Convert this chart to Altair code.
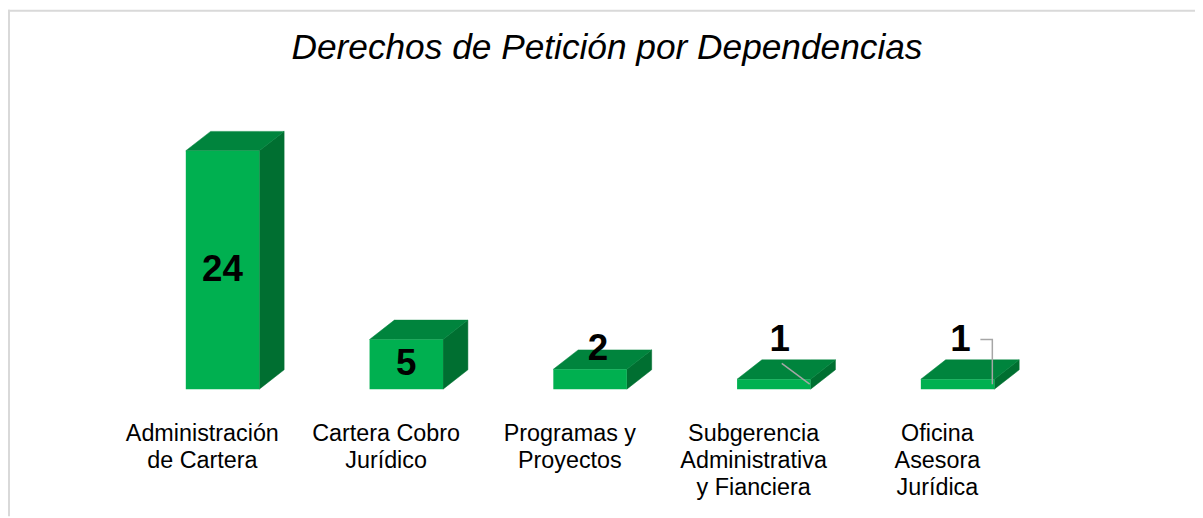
import altair as alt
import pandas as pd

# ---- data ----
categories = ["Administración\nde Cartera", "Cartera Cobro\nJurídico", "Programas y\nProyectos",
              "Subgerencia\nAdministrativa\ny Fianciera", "Oficina\nAsesora\nJurídica"]
values = [24, 5, 2, 1, 1]
title_text = "Derechos de Petición por Dependencias"

# ---- geometry (in data units) ----
HW = 0.2          # half bar width (category units)
DX = 25 / 185     # depth offset in x
DY = 1.95         # depth offset in y

front, top, side = [], [], []
for i, v in enumerate(values):
    front.append({"x": i - HW, "x2": i + HW, "y": 0, "y2": v})
    for x, lo, hi in [(i - HW, v, v), (i - HW + DX, v, v + DY), (i + HW, v, v + DY), (i + HW + DX, v + DY, v + DY)]:
        top.append({"bar": i, "x": x, "lo": lo, "hi": hi})
    for x, lo, hi in [(i + HW, 0, v), (i + HW + DX, DY, v + DY)]:
        side.append({"bar": i, "x": x, "lo": lo, "hi": hi})

# value labels: inside tall bars, above flat ones
lab_dx = [0, 0, 0.043, 0.032, 0.016]
lab_y = [values[0] / 2, values[1] / 2, 4.0, 4.9, 4.9]
labels = pd.DataFrame({"x": [i + d for i, d in enumerate(lab_dx)], "y": lab_y,
                       "t": [str(v) for v in values]})

# leader lines
leaders = pd.DataFrame([
    {"id": 0, "o": 0, "x": 3 + 0.043, "y": 2.6},
    {"id": 0, "o": 1, "x": 3 + 0.195, "y": 0.5},
    {"id": 1, "o": 0, "x": 4 + 0.124, "y": 5.0},
    {"id": 1, "o": 1, "x": 4 + 0.189, "y": 5.0},
    {"id": 1, "o": 2, "x": 4 + 0.189, "y": 0.5},
])

cats = pd.DataFrame({"x": [i - 0.11 for i in range(len(categories))], "y": [-3.3] * len(categories),
                     "t": categories})

W, H = 1195, 510
xs = alt.Scale(domain=[-216 / 185, -216 / 185 + W / 185], nice=False, zero=False)
ys = alt.Scale(domain=[-12.8, 38.2], nice=False, zero=False)
X = lambda f: alt.X(f, type="quantitative", scale=xs, axis=None)
Y = lambda f: alt.Y(f, type="quantitative", scale=ys, axis=None)

side_l = alt.Chart(pd.DataFrame(side)).mark_area(color="#006f31", stroke="#006f31", strokeWidth=0.5).encode(
    x=X("x"), y=Y("hi"), y2="lo", detail="bar:N")
top_l = alt.Chart(pd.DataFrame(top)).mark_area(color="#00843d", stroke="#00843d", strokeWidth=0.5).encode(
    x=X("x"), y=Y("hi"), y2="lo", detail="bar:N")
front_l = alt.Chart(pd.DataFrame(front)).mark_rect(color="#00b050").encode(
    x=X("x"), x2="x2", y=Y("y"), y2="y2")
lead_l = alt.Chart(leaders).mark_line(color="#a6a6a6", strokeWidth=1.5).encode(
    x=X("x"), y=Y("y"), detail="id:N", order="o:Q")
val_l = alt.Chart(labels).mark_text(font="Liberation Sans", fontWeight="bold", fontSize=37,
                                    color="black", baseline="middle", align="center").encode(
    x=X("x"), y=Y("y"), text="t:N")
cat_l = alt.Chart(cats).mark_text(font="Liberation Sans", fontSize=23.5, color="black", lineBreak="\n",
                                  lineHeight=27.5, baseline="top", align="center").encode(
    x=X("x"), y=Y("y"), text="t:N")
title_l = alt.Chart(pd.DataFrame({"t": [title_text]})).mark_text(
    font="Liberation Sans", fontSize=35.5, fontStyle="italic", color="black", baseline="middle",
    align="center").encode(x=alt.value(603), y=alt.value(39), text="t:N")
frame_l = alt.Chart(pd.DataFrame({"a": [0]})).mark_rule(color="#d9d9d9", strokeWidth=2).encode(
    x=alt.value(1), y=alt.value(0), y2=alt.value(H))
frame_t = alt.Chart(pd.DataFrame({"a": [0]})).mark_rule(color="#d9d9d9", strokeWidth=2).encode(
    x=alt.value(0), x2=alt.value(W), y=alt.value(1))

chart = alt.layer(frame_l, frame_t, side_l, top_l, front_l, lead_l, val_l, cat_l, title_l).properties(
    width=W, height=H, autosize=alt.AutoSizeParams(type="none"), padding=0, background="white"
).configure_view(stroke=None)

chart.save("out.html", embed_options={"renderer": "svg", "actions": False})
